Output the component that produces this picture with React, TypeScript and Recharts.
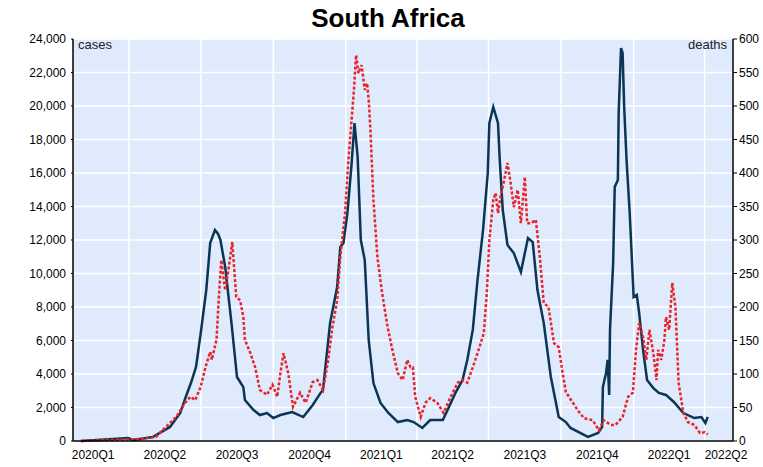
import { LineChart, Line, XAxis, YAxis, CartesianGrid, ReferenceLine } from 'recharts';

// days counted from 2020-01-01
const quarterStarts = [0, 91, 182, 274, 366, 456, 547, 639, 731, 821, 912];
const quarterLabels = ['2020Q1', '2020Q2', '2020Q3', '2020Q4', '2021Q1', '2021Q2', '2021Q3', '2021Q4', '2022Q1', '2022Q2'];

const caseDays = [
  30, 90, 96, 105, 121, 143, 156, 163, 170, 176, 182, 189, 194, 200, 204, 207, 213, 221, 228, 236,
  238, 249, 257, 266, 274, 283, 298, 312, 324, 334, 337, 346, 355, 359, 363, 368, 373, 377, 381, 385,
  390, 395, 401, 410, 420, 432, 444, 452, 463, 473, 489, 495, 505, 514, 520, 527, 533, 540, 546, 548,
  553, 559, 561, 565, 571, 579, 588, 597, 603, 609, 617, 626, 636, 645, 651, 673, 686, 691, 692, 696,
  698, 700, 701, 705, 707, 711, 712, 715, 717, 719, 722, 726, 731, 735, 738, 743, 748, 756, 763, 772,
  782, 794, 808, 817, 822, 825,
];
const cases = [
  0, 180, 60, 120, 240, 840, 1670, 2630, 3520, 4420, 6450, 9010, 11820, 12600, 12360, 12000, 10390, 7040, 3820, 3220,
  2450, 1850, 1550, 1670, 1370, 1550, 1730, 1430, 2150, 2870, 3040, 7040, 9190, 11580, 11820, 13610, 16360, 18980, 16950, 12000,
  10800, 6030, 3460, 2270, 1670, 1130, 1250, 1130, 780, 1250, 1250, 1850, 2870, 3640, 4840, 6630, 9610, 12600, 16000, 18980,
  19940, 18980, 16950, 13790, 11700, 11220, 10090, 12120, 11880, 9010, 7040, 3820, 1430, 1130, 780, 240, 480, 840, 3220, 4060,
  4840, 2750, 6630, 10630, 15170, 15580, 19580, 23460, 23160, 19940, 16780, 13610, 8600, 8720, 7640, 5430, 3640, 3160, 2870, 2750,
  2330, 1670, 1370, 1430, 1070, 1430,
];

const deathDays = [
  30, 105, 125, 143, 151, 162, 169, 175, 182, 188, 194, 196, 202, 205, 208, 213, 217, 222, 227, 232,
  236, 238, 245, 251, 257, 266, 273, 279, 283, 287, 293, 299, 308, 315, 324, 330, 337, 343, 349, 355,
  359, 365, 369, 373, 376, 379, 382, 386, 390, 393, 395, 397, 401, 406, 412, 419, 425, 432, 438, 444,
  448, 451, 454, 461, 467, 473, 482, 490, 499, 508, 514, 520, 527, 533, 541, 545, 548, 553, 556, 559,
  562, 566, 571, 575, 579, 584, 588, 593, 596, 601, 607, 612, 617, 623, 630, 636, 641, 645, 654, 660,
  668, 679, 687, 693, 702, 708, 717, 724, 730, 734, 738, 743, 747, 751, 756, 760, 762, 766, 770, 772,
  776, 780, 784, 788, 794, 800, 808, 815, 821, 825,
];
const deaths = [
  0, 3, 6, 27, 36, 57, 66, 61, 81, 110, 133, 121, 151, 215, 270, 225, 255, 297, 215, 210,
  185, 151, 131, 110, 76, 69, 84, 66, 101, 131, 101, 51, 72, 57, 88, 91, 76, 116, 170, 210,
  275, 340, 415, 475, 519, 576, 549, 561, 524, 534, 509, 469, 360, 275, 221, 170, 136, 101, 91, 121,
  110, 110, 66, 36, 57, 64, 57, 42, 66, 87, 91, 87, 110, 131, 161, 225, 300, 360, 370, 340,
  364, 385, 415, 385, 349, 375, 325, 394, 325, 325, 330, 275, 206, 200, 146, 140, 101, 73, 57, 46,
  34, 31, 16, 31, 24, 24, 36, 66, 72, 136, 176, 155, 121, 166, 131, 91, 136, 121, 151, 185,
  166, 236, 200, 87, 42, 28, 24, 12, 13, 10,
];

const caseTicks = [0, 2000, 4000, 6000, 8000, 10000, 12000, 14000, 16000, 18000, 20000, 22000, 24000];
const deathTicks = [0, 50, 100, 150, 200, 250, 300, 350, 400, 450, 500, 550, 600];

const caseData = caseDays.map((d, i) => ({ d, v: cases[i] }));
const deathData = deathDays.map((d, i) => ({ d, v: deaths[i] }));
const labelTicks = quarterLabels.map((_, i) => (quarterStarts[i] + quarterStarts[i + 1]) / 2);
const xDomain = [20, 857];
const gridDays = quarterStarts.filter((q) => q > xDomain[0] && q < xDomain[1]);

const font = 'Liberation Sans, Arial, sans-serif';
const tickStyle = { fill: '#000', fontSize: 12, fontFamily: font };

const QuarterTick = (props: any) => {
  const { x, y, payload } = props;
  const i = labelTicks.indexOf(payload.value);
  return (
    <text x={Math.min(x, 726)} y={y} dy="0.71em" textAnchor="middle" {...tickStyle}>
      {quarterLabels[i]}
    </text>
  );
};

export default function App() {
  return (
    <div style={{ position: 'absolute', left: 0, top: 0, width: 763, height: 467, background: '#fff', fontFamily: font }}>
      <div style={{ position: 'absolute', left: 0, width: 776, top: 3, textAlign: 'center', fontWeight: 'bold', fontSize: 26 }}>
        South Africa
      </div>
      <LineChart width={763} height={467} margin={{ top: 39, right: 0, bottom: 0, left: 0 }}>
        <CartesianGrid yAxisId="left" vertical={false} stroke="#fff" strokeWidth={1.5} fill="#dfeafc" />
        <XAxis
          type="number"
          dataKey="d"
          domain={xDomain}
          ticks={labelTicks}
          interval={0}
          allowDataOverflow
          height={26}
          tickSize={0}
          tickMargin={9}
          tick={<QuarterTick />}
          axisLine={{ stroke: '#000', strokeWidth: 1.5 }}
        />
        <YAxis
          yAxisId="left"
          domain={[0, 24000]}
          ticks={caseTicks}
          interval={0}
          width={73}
          tickSize={2}
          tickMargin={5}
          tick={tickStyle}
          tickFormatter={(v: number) => v.toLocaleString('en-US')}
          axisLine={{ stroke: '#000', strokeWidth: 1.5 }}
          tickLine={{ stroke: '#000' }}
        />
        <YAxis
          yAxisId="right"
          orientation="right"
          domain={[0, 600]}
          ticks={deathTicks}
          interval={0}
          width={30}
          tickSize={4}
          tickMargin={2}
          tick={tickStyle}
          axisLine={{ stroke: '#000', strokeWidth: 1.5 }}
          tickLine={{ stroke: '#000' }}
        />
        {gridDays.map((q) => (
          <ReferenceLine key={q} x={q} yAxisId="left" stroke="#fff" strokeWidth={1.5} />
        ))}
        <Line
          yAxisId="left"
          data={caseData}
          dataKey="v"
          type="linear"
          stroke="#0b3552"
          strokeWidth={2.5}
          dot={false}
          isAnimationActive={false}
        />
        <Line
          yAxisId="right"
          data={deathData}
          dataKey="v"
          type="linear"
          stroke="#e8232b"
          strokeWidth={2.5}
          strokeDasharray="3 2"
          dot={false}
          isAnimationActive={false}
        />
      </LineChart>
      <div style={{ position: 'absolute', left: 78, top: 37, fontSize: 13, color: '#222' }}>cases</div>
      <div style={{ position: 'absolute', right: 763 - 727, top: 37, fontSize: 13, color: '#222' }}>deaths</div>
    </div>
  );
}
